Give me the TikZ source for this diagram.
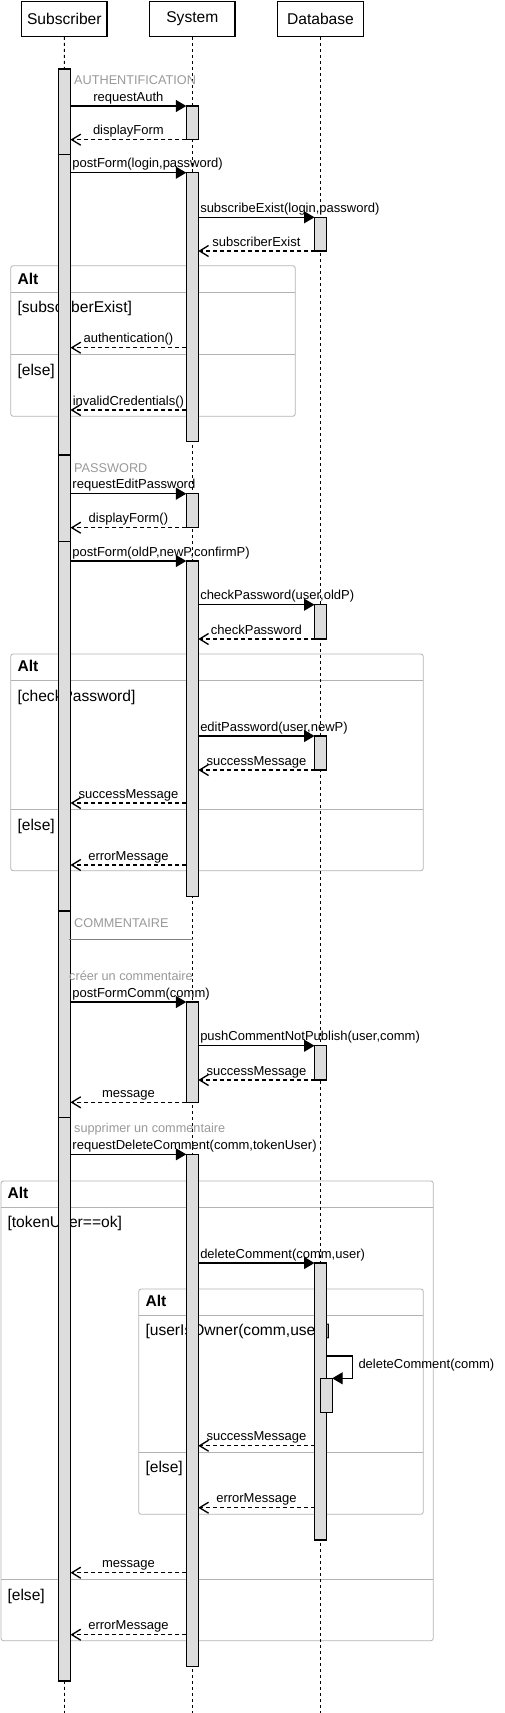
\documentclass[tikz,border=0pt]{standalone}
\usepackage{fontspec}
\setmainfont{Liberation Sans}
\usetikzlibrary{arrows.meta}
\definecolor{actfill}{HTML}{DDDDDD}
\definecolor{framegray}{HTML}{B3B3B3}
\definecolor{notegray}{HTML}{999999}
\definecolor{linegray}{HTML}{808080}
\tikzset{
 actor/.style={draw, line width=1.33pt, fill=white, minimum width=85.4pt, minimum height=34.9pt, inner sep=0pt, font=\fontsize{15.6}{18}\selectfont},
 lifeline/.style={line width=0.9pt, dash pattern=on 3pt off 3pt},
 act/.style={draw, line width=1.33pt, fill=actfill, minimum width=12pt, inner sep=0pt},
 call/.style={line width=1.33pt, -{Triangle[length=10.5pt,width=12pt]}},
 ret/.style={line width=1.33pt, dash pattern=on 4pt off 3pt, -{Straight Barb[length=9pt,width=11pt]}},
 lblc/.style={anchor=base, yshift=5pt, inner sep=0pt, font=\fontsize{13}{15}\selectfont},
 lbll/.style={pos=0, anchor=base west, xshift=1.3pt, yshift=5pt, inner sep=0pt, font=\fontsize{13}{15}\selectfont},
 note/.style={anchor=base west, inner sep=0pt, text=notegray, font=\fontsize{12.7}{15}\selectfont},
 frame/.style={draw=framegray, line width=0.8pt, rounded corners=2.5pt, inner sep=0pt},
 sep/.style={draw=framegray, line width=0.8pt},
 fhead/.style={anchor=base west, inner sep=0pt, font=\bfseries\fontsize{15.6}{18}\selectfont},
 fcond/.style={anchor=base west, inner sep=0pt, font=\fontsize{15.6}{18}\selectfont},
}
\newcommand\altframe[7]{%
 \node[frame, minimum width={(#4-#2)*1pt}, minimum height={(#5-#3)*1pt}] (#1) at ({(#2+#4)/2},{(#3+#5)/2}) {};
 \coordinate (#1ha) at (#2,#6); \coordinate (#1hb) at (#4,#6);
 \draw[sep] (#1ha) -- (#1hb);
 \coordinate (#1sa) at (#2,#7); \coordinate (#1sb) at (#4,#7);
 \draw[sep] (#1sa) -- (#1sb);}
\newcommand\actv[4]{\node[act, minimum height={(#4-#3)*1pt}] (#1) at (#2,{(#3+#4)/2}) {};}
\newcommand\msgc[6]{\coordinate (#1a) at (#3,#5); \coordinate (#1b) at (#4,#5);
 \draw[#2] (#1a) -- node[lblc] (#1t) {#6} (#1b);}
\newcommand\msgl[6]{\coordinate (#1a) at (#3,#5); \coordinate (#1b) at (#4,#5);
 \draw[#2] (#1a) -- node[lbll] (#1t) {#6} (#1b);}
\begin{document}
\begin{tikzpicture}[x=1pt,y=-1pt]
\useasboundingbox (0,0) rectangle (504,1713);
% frames
\altframe{fa}{10.7}{265.7}{295.3}{416.3}{292.3}{354.7}
\node[fhead] (fah) at (17.3,284.3) {Alt};
\node[fcond] (fac1) at (17.3,312.7) {[subscriberExist]};
\node[fcond] (fac2) at (17.3,375) {[else]};
\altframe{fb}{10.7}{654}{423.3}{870.7}{680.3}{809.3}
\node[fhead] (fbh) at (17.3,671.7) {Alt};
\node[fcond] (fbc1) at (17.3,701) {[checkPassword]};
\node[fcond] (fbc2) at (17.3,830) {[else]};
\altframe{fc}{1}{1181}{433.3}{1640.7}{1207.3}{1579.3}
\node[fhead] (fch) at (7.3,1198.7) {Alt};
\node[fcond] (fcc1) at (7.3,1227.7) {[tokenUser==ok]};
\node[fcond] (fcc2) at (7.3,1600) {[else]};
\altframe{fd}{138.7}{1289}{423.3}{1514.3}{1315.3}{1452.3}
\node[fhead] (fdh) at (145.3,1306.7) {Alt};
\node[fcond] (fdc1) at (145.3,1335.7) {[userIsOwner(comm,user)]};
\node[fcond] (fdc2) at (145.3,1472.7) {[else]};
% actors and lifelines
\node[actor] (sub) at (64.3,18.85) {Subscriber};
\node[actor] (sys) at (192.3,18.85) {System};
\node[actor] (db) at (320.5,18.85) {Database};
\coordinate (subend) at (64.5,1713);
\coordinate (sysend) at (192.3,1713);
\coordinate (dbend) at (320.5,1713);
\draw[lifeline] (sub.south) -- (subend);
\draw[lifeline] (sys.south) -- (sysend);
\draw[lifeline] (db.south) -- (dbend);
% activations
\actv{sa1}{64.5}{69}{154.3}
\actv{sa2}{64.5}{154.3}{455}
\actv{sa3}{64.5}{455}{541.7}
\actv{sa4}{64.5}{541.7}{911}
\actv{sa5}{64.5}{911}{1117.3}
\actv{sa6}{64.5}{1117.3}{1681}
\actv{ya1}{192.3}{106}{139.7}
\actv{ya2}{192.3}{172.7}{441.7}
\actv{ya3}{192.3}{493.7}{527.7}
\actv{ya4}{192.3}{561}{896.7}
\actv{ya5}{192.3}{1002}{1102.3}
\actv{ya6}{192.3}{1154.3}{1666.7}
\actv{da1}{320.5}{217.3}{251}
\actv{da2}{320.5}{604.7}{639}
\actv{da3}{320.5}{736}{770}
\actv{da4}{320.5}{1045.7}{1080}
\actv{da5}{320.5}{1263}{1540}
\actv{da6}{326.2}{1378.3}{1412.7}
% section notes
\node[note] (n1) at (74,84) {AUTHENTIFICATION};
\node[note] (n2) at (74,472.3) {PASSWORD};
\node[note] (n3) at (74,927.7) {COMMENTAIRE};
\coordinate (cl1) at (69,939); \coordinate (cl2) at (193.3,939);
\draw[linegray, line width=1pt] (cl1) -- (cl2);
\node[note] (n4) at (69,980) {créer un commentaire};
\node[note] (n5) at (74,1132.5) {supprimer un commentaire};
% messages
\msgc{m1}{call}{70.5}{186.3}{106}{requestAuth}
\msgc{m2}{ret}{186.3}{70.5}{139.7}{displayForm}
\msgl{m3}{call}{70.5}{186.3}{172.7}{postForm(login,password)}
\msgl{m4}{call}{198.3}{314.5}{217.3}{subscribeExist(login,password)}
\msgc{m5}{ret}{314.5}{198.3}{251}{subscriberExist}
\msgc{m6}{ret}{186.3}{70.5}{347.7}{authentication()}
\msgc{m7}{ret}{186.3}{70.5}{410}{invalidCredentials()}
\msgl{m8}{call}{70.5}{186.3}{493.7}{requestEditPassword}
\msgc{m9}{ret}{186.3}{70.5}{527.7}{displayForm()}
\msgl{m10}{call}{70.5}{186.3}{561}{postForm(oldP,newP,confirmP)}
\msgl{m11}{call}{198.3}{314.5}{604.7}{checkPassword(user,oldP)}
\msgc{m12}{ret}{314.5}{198.3}{639}{checkPassword}
\msgl{m13}{call}{198.3}{314.5}{736}{editPassword(user,newP)}
\msgc{m14}{ret}{314.5}{198.3}{770}{successMessage}
\msgc{m15}{ret}{186.3}{70.5}{803}{successMessage}
\msgc{m16}{ret}{186.3}{70.5}{865}{errorMessage}
\msgl{m17}{call}{70.5}{186.3}{1002}{postFormComm(comm)}
\msgl{m18}{call}{198.3}{314.5}{1045.7}{pushCommentNotPublish(user,comm)}
\msgc{m19}{ret}{314.5}{198.3}{1080}{successMessage}
\msgc{m20}{ret}{186.3}{70.5}{1102.3}{message}
\msgl{m21}{call}{70.5}{186.3}{1154.3}{requestDeleteComment(comm,tokenUser)}
\msgl{m22}{call}{198.3}{314.5}{1263}{deleteComment(comm,user)}
\coordinate (sca) at (326.5,1356); \coordinate (scb) at (332.2,1378.3);
\draw[call] (sca) -- ++(25.8,0) |- (scb);
\node[anchor=base west, inner sep=0pt, font=\fontsize{13}{15}\selectfont] (sct) at (358.3,1368) {deleteComment(comm)};
\msgc{m24}{ret}{314.5}{198.3}{1445.7}{successMessage}
\msgc{m25}{ret}{314.5}{198.3}{1507.7}{errorMessage}
\msgc{m26}{ret}{186.3}{70.5}{1572.7}{message}
\msgc{m27}{ret}{186.3}{70.5}{1634.7}{errorMessage}
\end{tikzpicture}
\end{document}
